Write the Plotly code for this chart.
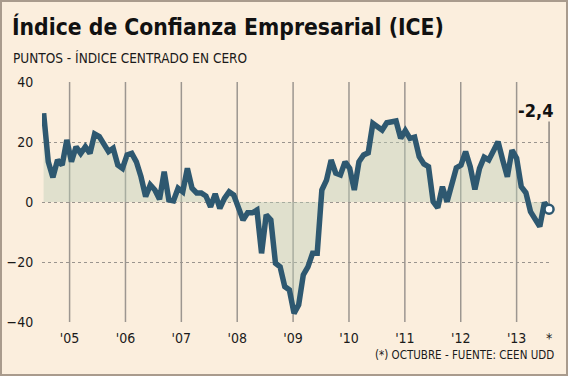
import plotly.graph_objects as go

# ---- data (monthly index values) ----
ice_values = [
    29.6, 13.4, 8.2, 14.0, 12.3, 20.7, 13.4, 18.4, 16.2, 18.4,
    16.2, 22.7, 21.8, 19.0, 16.8, 17.9, 12.3, 11.2, 15.7, 16.2,
    13.4, 8.4, 1.8, 5.7, 4.0, 0.9, 10.1, 0.7, 0.4, 4.6,
    3.4, 11.2, 4.6, 3.0, 3.0, 2.0, -1.6, 2.7, -2.1, 1.2,
    3.4, 2.3, -1.6, -6.0, -3.6, -3.6, -2.7, -17.1, -4.3, -6.0,
    -20.4, -21.6, -28.2, -29.3, -37.1, -34.3, -24.3, -21.6, -17.1, -17.1,
    4.0, 7.3, 14.0, 9.6, 9.0, 13.4, 11.2, 4.0, 13.4, 15.7,
    16.4, 26.2, 25.1, 24.0, 26.4, 26.8, 27.0, 21.2, 23.8, 21.2,
    21.6, 15.1, 12.7, 11.8, 0.1, -1.9, 5.1, 0.1, 5.7, 11.4,
    12.3, 16.8, 11.8, 4.2, 11.2, 14.9, 14.0, 17.3, 20.1, 14.0,
    8.4, 17.3, 14.6, 5.1, 3.1, -3.2, -5.4, -8.2, -0.2, -2.4,
]
month_index = list(range(len(ice_values)))
year_labels = ["'05", "'06", "'07", "'08", "'09", "'10", "'11", "'12", "'13"]
last_label = "*"
last_value_text = "-2,4"
y_ticks = [-40, -20, 0, 20, 40]

title_text = "Índice de Confianza Empresarial (ICE)"
subtitle_text = "PUNTOS - ÍNDICE CENTRADO EN CERO"
footer_text = "(*) OCTUBRE - FUENTE: CEEN UDD"

# ---- layout geometry ----
W, H = 568, 376
L, R, T, B = 42, 18, 82, 54
PW, PH = W - L - R, H - T - B

def px(xp):
    return (xp - L) / PW

def py(yp):
    return (H - B - yp) / PH

FONT = "DejaVu Sans Condensed, DejaVu Sans, sans-serif"
BG = "#FBEEDD"
LINE = "#2E5870"
GRID = "#9c9690"

n = len(ice_values)
year_pos = [5.6 + 12.05 * k for k in range(len(year_labels))]
last_x = month_index[-1]
last_y = ice_values[-1]

fig = go.Figure()
fig.add_trace(go.Scatter(
    x=month_index, y=ice_values, mode="lines",
    line=dict(color=LINE, width=5.5),
    fill="tozeroy", fillcolor="rgba(186,204,184,0.42)",
    hoverinfo="skip", showlegend=False,
))
fig.add_trace(go.Scatter(
    x=[last_x], y=[last_y], mode="markers",
    marker=dict(size=9, color="white", line=dict(color=LINE, width=2.5)),
    cliponaxis=False, hoverinfo="skip", showlegend=False,
))

shapes = []
for xp in year_pos:
    shapes.append(dict(type="line", xref="x", yref="y", x0=xp, x1=xp,
                       y0=-40, y1=40, layer="below",
                       line=dict(color=GRID, width=1.5)))
# leader line from label to last point
shapes.append(dict(type="line", xref="x", yref="y", x0=last_x, x1=last_x,
                   y0=last_y, y1=26.8, layer="below",
                   line=dict(color="#8a8580", width=1.5)))
# frame
shapes.append(dict(type="rect", xref="paper", yref="paper",
                   x0=px(1), x1=px(W - 1), y0=py(H - 1), y1=py(1),
                   line=dict(color="#a99b8d", width=2), layer="above"))

annotations = [
    dict(text=title_text, xref="paper", yref="paper", x=px(10), y=py(27),
         xanchor="left", yanchor="middle", showarrow=False,
         font=dict(family=FONT, size=22.7, color="#111111", weight="bold")),
    dict(text=subtitle_text, xref="paper", yref="paper", x=px(11), y=py(58),
         xanchor="left", yanchor="middle", showarrow=False,
         font=dict(family=FONT, size=13.5, color="#1a1a1a")),
    dict(text=footer_text, xref="paper", yref="paper", x=px(556), y=py(355),
         xanchor="right", yanchor="middle", showarrow=False,
         font=dict(family=FONT, size=11.5, color="#1a1a1a")),
    dict(text=last_value_text, xref="x", yref="y", x=last_x, y=last_y,
         xshift=-14, yshift=99, xanchor="center", yanchor="middle",
         showarrow=False,
         font=dict(family=FONT, size=18, color="#111111", weight="bold")),
]

fig.update_layout(
    width=W, height=H,
    margin=dict(l=L, r=R, t=T, b=B, pad=0, autoexpand=False),
    paper_bgcolor=BG, plot_bgcolor=BG,
    shapes=shapes, annotations=annotations,
    xaxis=dict(range=[-0.35, n - 1 + 0.2], showgrid=False, zeroline=False,
               showline=False, ticks="", ticklabelstandoff=6, automargin=False,
               tickvals=year_pos + [last_x], ticktext=year_labels + [last_label],
               tickfont=dict(family=FONT, size=14, color="#1a1a1a"),
               fixedrange=True),
    yaxis=dict(range=[-40, 40], tickvals=y_ticks, showgrid=True,
               gridcolor="#9a948e", griddash="3px,3px", gridwidth=1,
               zeroline=False, showline=False, automargin=False,
               ticks="outside", ticklen=5, tickcolor="rgba(0,0,0,0)",
               tickfont=dict(family=FONT, size=14, color="#1a1a1a"),
               fixedrange=True),
    font=dict(family=FONT),
)

fig.write_html("out.html",
               config={"displayModeBar": False, "staticPlot": True},
               post_script="document.body.style.margin='0';document.body.style.overflow='hidden';")
